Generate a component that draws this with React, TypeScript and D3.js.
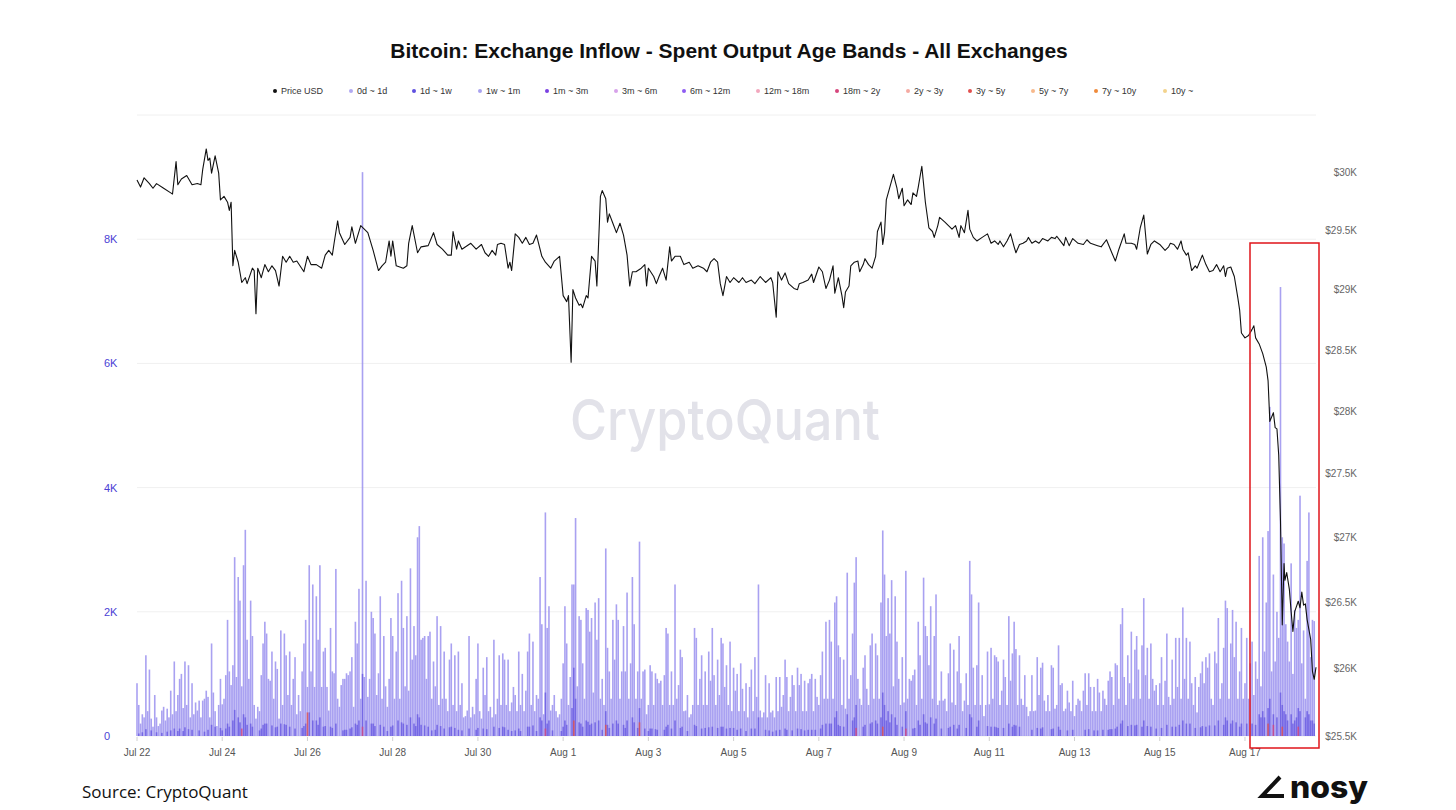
import React, { useEffect } from "react";
import * as d3 from "d3";

// ---------------- DATA ----------------
const HOURS = 664;

const xTickLabels = ["Jul 22", "Jul 24", "Jul 26", "Jul 28", "Jul 30", "Aug 1", "Aug 3", "Aug 5", "Aug 7", "Aug 9", "Aug 11", "Aug 13", "Aug 15", "Aug 17"];
const leftTicks = [0, 2000, 4000, 6000, 8000, 10000];
const leftTickLabels = ["0", "2K", "4K", "6K", "8K", ""];
const rightTicks = [25500, 26000, 26500, 27000, 27500, 28000, 28500, 29000, 29500, 30000];
const rightTickLabels = ["$25.5K", "$26K", "$26.5K", "$27K", "$27.5K", "$28K", "$28.5K", "$29K", "$29.5K", "$30K"];

const legendNames = ["Price USD", "0d ~ 1d", "1d ~ 1w", "1w ~ 1m", "1m ~ 3m", "3m ~ 6m", "6m ~ 12m", "12m ~ 18m", "18m ~ 2y", "2y ~ 3y", "3y ~ 5y", "5y ~ 7y", "7y ~ 10y", "10y ~"];
const legendColors = ["#111111", "#b1a9f2", "#5f50e0", "#a9a2f0", "#7a40e2", "#d7a2ea", "#8e5cf2", "#f2a7bd", "#d6467c", "#f5aaa2", "#e2504e", "#f7b98c", "#ef8a3a", "#f3d38c"];

// 0d ~ 1d hourly inflow, in hundreds of BTC (one value per hour from Jul 22 00:00)
const inflow0d1d = [
  // Jul 22
  8.5, 5, 2, 3.5, 3, 13, 4, 10.7, 2.8, 1.5, 6.6, 3, 1.6, 2, 4.1, 4.7, 2.5, 4.4, 3, 7.3, 3.5, 12, 4, 6.6,
  // Jul 23
  9.2, 10, 4.5, 12, 5, 11.4, 3, 8.5, 3.5, 5.4, 4.1, 5.7, 3, 5.7, 6, 7.3, 6.3, 3, 14.9, 7, 4, 1.6, 5, 9.2,
  // Jul 24
  5.1, 6, 9.8, 18.7, 10.4, 8.2, 11.4, 28.8, 9.5, 25.6, 21.8, 8, 27.5, 33.2, 15.5, 9.2, 21.8, 16.1, 5, 2.8, 4.7, 4, 9.8, 14.9,
  // Jul 25
  18.4, 16.5, 9.2, 8.9, 13.6, 6, 12, 10.8, 2.8, 17, 5, 16.5, 13, 6.6, 13.6, 5, 9.2, 12.7, 3.5, 6.6, 4, 10.4, 14.9, 18.7,
  // Jul 26
  7.9, 27.5, 10.4, 24.4, 7.9, 22.5, 15.5, 27.5, 7.9, 13.6, 14.2, 7.9, 4.1, 17.4, 10.4, 10.1, 26.9, 6, 4.7, 8.2, 9.2, 9.2, 10.1, 9.8,
  // Jul 27
  10.4, 12.7, 4.7, 18.4, 14.9, 23.7, 6, 90.8, 9.5, 25, 6.3, 9.2, 20, 19, 16.5, 6.6, 10.1, 22.5, 6, 16.1, 8, 4.7, 9.2, 19,
  // Jul 28
  16.1, 6, 13.6, 23, 6, 25, 17.4, 8, 19.3, 7.3, 27, 12.3, 17.7, 13, 32, 33.8, 15.5, 15.8, 16.1, 9.2, 16.1, 16.8, 6, 12,
  // Jul 29
  8, 19.3, 5, 17.7, 6, 13.6, 6, 4, 12.3, 14.9, 5, 13, 4, 13.6, 5, 8.5, 3, 3.2, 4.1, 16.1, 3, 4.7, 3.5, 9.2,
  // Jul 30
  14.9, 4, 2.8, 11, 6.6, 12.7, 4, 4.7, 3, 15.5, 3.5, 6, 13, 5, 13.3, 12.3, 5, 12.3, 4, 5.4, 7.9, 6.6, 4, 13.6,
  // Jul 31
  5, 10, 4, 7.3, 13.6, 16.5, 5, 15.2, 4, 6.6, 6, 25.6, 18, 3.5, 36, 17.4, 20.9, 4.1, 5, 6.6, 4, 3, 3.5, 6,
  // Aug 1
  11.7, 20.9, 14.9, 5, 9.5, 24.4, 24.4, 35.1, 8, 19.3, 18.7, 11.7, 6, 20.6, 20.3, 16.8, 19, 7, 21.5, 15.5, 22.2, 6, 9.2, 5,
  // Aug 2
  30.2, 14.2, 10.4, 6, 18.7, 12.3, 21.2, 18.7, 6, 10.4, 17.7, 10.4, 23.1, 6, 11.7, 25.6, 18, 6, 10.4, 31.3, 6, 10.4, 10.7, 3.5,
  // Aug 3
  5, 11.4, 10.4, 5, 10.1, 9.2, 8.5, 8.9, 5, 9.8, 17.4, 16.5, 5, 10.4, 5, 24.4, 6, 8.2, 13.9, 12.7, 4, 4.1, 6.6, 3,
  // Aug 4
  3.5, 5, 17.4, 15.8, 5, 9.2, 13, 5, 10.4, 5, 13.6, 8.9, 17.4, 9.8, 5, 12.3, 6.6, 15.8, 14.9, 7.9, 11.4, 5, 15.2, 4,
  // Aug 5
  11, 7.3, 10, 4, 11.7, 7.6, 4, 8.5, 3, 7.9, 10.7, 4, 12.7, 6.3, 24.4, 4.1, 3, 3.8, 9.8, 3, 8.5, 3.8, 4.1, 3,
  // Aug 6
  9.5, 4, 9.5, 4.7, 6.6, 12.3, 9.5, 4, 6.3, 9.8, 8.2, 4, 11, 8.2, 10, 4, 8.9, 4, 8.5, 9.2, 10, 4, 9.2, 6.3,
  // Aug 7
  5, 9.8, 13.6, 6, 18.4, 6, 18.7, 15.2, 6, 21.5, 22.5, 14.6, 12.7, 5, 12.3, 4.4, 26.3, 6, 9.8, 16.5, 24.7, 28.8, 9.2, 6,
  // Aug 8
  5, 11, 13, 7.6, 5, 14.6, 16.5, 6, 14.9, 13, 6, 21.5, 33.1, 26, 16.1, 22.2, 16.5, 25.1, 8, 22.5, 15.2, 9.2, 5, 12.7,
  // Aug 9
  5.4, 26.6, 6, 9.2, 8.9, 9.8, 10.7, 5, 18.4, 13, 6, 25.5, 17.7, 16.1, 11.4, 20.9, 6, 16.1, 22.8, 5, 5.7, 10.4, 5.7, 6,
  // Aug 10
  4, 10.1, 14.9, 5.4, 13.9, 5, 10.4, 16.1, 8.5, 4, 5.7, 10.1, 5, 28.2, 22.8, 11, 5, 11.4, 21.5, 5, 9.8, 3.2, 5, 13.6,
  // Aug 11
  5.1, 14.2, 6, 13, 12.7, 12, 5, 7.3, 12.3, 9.5, 5, 19.3, 8.9, 13.3, 18.4, 14, 5, 13, 6, 5, 9.8, 4.7, 3.2, 4,
  // Aug 12
  9.8, 4, 4.1, 12.7, 6.6, 11, 11.8, 5.7, 4, 6.6, 4, 11.4, 11, 4.4, 5, 14.6, 8.2, 8.5, 4, 4.4, 7.3, 5.4, 4, 8.9,
  // Aug 13
  3.2, 5, 6, 5.7, 4, 7.3, 10.1, 5, 10.1, 7.9, 4, 7.9, 4, 9.2, 7, 4, 7.3, 6, 5, 8.9, 10.4, 9.5, 5, 11.7,
  // Aug 14
  11.4, 6, 18, 20.6, 9.5, 5, 13, 8.5, 16.8, 6, 13.9, 16.1, 10.7, 6, 14.6, 22.2, 9.8, 14.2, 6, 14.9, 9.2, 7.3, 8.2, 5,
  // Aug 15
  8.5, 12.7, 5, 8.9, 16.5, 6.3, 5, 12.3, 6, 15.8, 7.9, 15.8, 6, 20.7, 9.2, 15.8, 6, 15.2, 8.5, 5, 9.5, 3.8, 7.9, 10.1,
  // Aug 16
  12, 8.5, 12.7, 11, 13.3, 6, 5, 13.6, 11.7, 19, 6, 8.5, 14.2, 21.8, 20.6, 6, 14.9, 20.3, 12.7, 18.4, 6, 10.4, 17.4, 6,
  // Aug 17
  8.5, 15.8, 6, 11.7, 15.2, 6.6, 12, 9.2, 29, 8, 32, 13.6, 21.5, 33, 53, 10.4, 26, 12, 20, 15.8, 72.3, 32, 31, 18,
  // Aug 18
  15.2, 12, 27.8, 10, 20.3, 17.4, 18.7, 38.7, 11.7, 17, 6, 28.2, 36, 12.7, 18.7, 18.5,
];

// 1d ~ 1w inflow, [hour, BTC]
const inflow1d1w: [number, number][] = [
  [1, 40], [3, 60], [5, 110], [8, 90], [11, 60], [14, 50], [17, 70], [19, 90], [21, 120], [23, 80],
  [24, 120], [26, 80], [27, 140], [29, 110], [31, 100], [35, 90], [38, 70], [40, 100], [42, 180], [44, 150], [47, 130],
  [48, 90], [50, 120], [51, 200], [52, 150], [54, 250], [55, 420], [57, 300], [58, 220], [60, 350], [61, 300], [62, 180], [64, 200], [65, 150], [69, 90], [70, 120], [71, 180],
  [72, 200], [73, 200], [76, 170], [78, 140], [79, 150], [81, 200], [83, 190], [84, 180], [86, 150], [89, 120], [93, 130], [94, 160], [95, 200],
  [97, 380], [99, 250], [101, 250], [102, 180], [103, 300], [105, 150], [106, 160], [109, 150], [110, 130], [112, 200], [116, 90], [117, 100], [118, 100],
  [120, 120], [121, 140], [123, 200], [124, 180], [125, 250], [127, 1000], [129, 250], [132, 200], [133, 200], [134, 160], [137, 180], [139, 150], [141, 80], [143, 150],
  [144, 170], [147, 250], [149, 220], [150, 200], [152, 180], [154, 300], [156, 200], [157, 160], [158, 350], [159, 300], [160, 180], [162, 170], [164, 150], [166, 90],
  [168, 100], [169, 180], [171, 160], [173, 120], [176, 140], [177, 150], [179, 130], [181, 100], [183, 90], [187, 120], [191, 100],
  [192, 130], [195, 120], [197, 110], [201, 150], [204, 130], [206, 150], [207, 140], [209, 100], [211, 80], [213, 90], [215, 120],
  [216, 80], [220, 150], [221, 150], [223, 170], [225, 80], [227, 300], [228, 250], [230, 700], [231, 200], [232, 250], [234, 90], [239, 80],
  [240, 150], [241, 250], [242, 180], [245, 450], [246, 1100], [247, 600], [249, 220], [250, 200], [251, 150], [253, 250], [254, 230], [255, 180], [256, 200], [258, 220], [260, 250], [262, 100],
  [264, 400], [265, 180], [266, 130], [268, 200], [270, 250], [271, 200], [274, 180], [275, 130], [276, 250], [279, 300], [280, 220], [282, 130], [283, 450], [286, 120],
  [288, 80], [289, 120], [290, 120], [292, 110], [293, 100], [297, 100], [298, 150], [299, 180], [301, 120], [303, 250], [306, 130], [307, 150], [310, 80],
  [314, 180], [315, 160], [318, 120], [320, 130], [322, 140], [324, 150], [327, 130], [329, 150], [330, 150], [332, 120], [334, 130],
  [336, 130], [338, 100], [340, 120], [343, 80], [346, 120], [348, 120], [350, 300], [354, 100], [356, 90], [358, 70],
  [360, 90], [362, 100], [365, 120], [366, 100], [369, 90], [372, 120], [374, 110], [376, 90], [378, 100], [380, 100], [382, 100],
  [385, 120], [386, 180], [388, 200], [390, 200], [391, 200], [393, 300], [394, 400], [395, 180], [396, 160], [398, 150], [400, 350], [403, 250], [404, 300], [405, 500],
  [409, 150], [410, 180], [413, 200], [414, 220], [416, 250], [417, 200], [419, 300], [420, 700], [421, 500], [422, 250], [423, 400], [424, 220], [425, 350], [427, 300], [428, 180], [431, 150],
  [433, 400], [437, 120], [438, 130], [440, 250], [441, 180], [443, 350], [444, 220], [445, 200], [447, 300], [449, 200], [450, 280], [453, 120],
  [457, 130], [458, 150], [460, 180], [462, 120], [463, 180], [467, 130], [469, 350], [470, 300], [473, 150], [474, 250], [479, 160],
  [481, 150], [483, 150], [484, 140], [485, 130], [488, 130], [491, 200], [493, 150], [494, 180], [495, 170], [497, 150],
  [504, 100], [507, 130], [509, 120], [510, 140], [515, 110], [516, 120], [519, 150], [520, 100], [524, 90], [527, 100],
  [534, 100], [536, 110], [539, 90], [541, 90], [544, 100], [547, 100], [548, 110], [549, 110], [551, 120],
  [552, 150], [554, 200], [555, 250], [558, 160], [560, 180], [562, 170], [563, 180], [566, 150], [567, 250], [569, 160], [571, 150], [574, 120],
  [577, 130], [580, 180], [583, 150], [585, 150], [587, 180], [589, 250], [591, 200], [593, 200], [596, 130], [599, 140],
  [600, 160], [602, 150], [604, 170], [607, 170], [609, 250], [612, 180], [613, 300], [614, 250], [616, 200], [617, 250], [619, 220], [621, 150], [622, 200],
  [625, 200], [628, 200], [630, 180], [632, 350], [633, 300], [634, 400], [635, 300], [637, 450], [638, 600], [640, 350], [642, 300], [644, 700], [645, 500], [646, 400], [647, 350],
  [648, 250], [650, 350], [651, 200], [652, 250], [653, 300], [654, 450], [655, 400], [658, 300], [659, 400], [660, 350], [661, 250], [662, 250], [663, 200],
];

// 18m ~ 2y inflow, [hour, BTC]
const inflow18m2y: [number, number][] = [
  [59, 120], [127, 150], [230, 120], [405, 130], [433, 120], [640, 180], [654, 150],
];

// 3y ~ 5y inflow, [hour, BTC]
const inflow3y5y: [number, number][] = [
  [96, 380], [246, 250], [264, 180], [283, 220], [420, 150], [637, 200], [645, 150],
];

// Price USD, [hour, price]
const priceUSD: [number, number][] = [
  [0, 29930], [2, 29870], [4, 29950], [7, 29900], [9, 29860], [11, 29900], [15, 29860], [19, 29820], [20, 29810], [22, 30090], [23, 29890],
  [25, 29940], [28, 29970], [31, 29890], [34, 29900], [36, 29890], [37, 30020], [39, 30200], [40, 30100], [41, 30120], [42, 29990], [44, 30140],
  [46, 29990], [47, 29760], [49, 29790], [51, 29740], [52, 29670], [53, 29740], [54, 29200], [55, 29330], [57, 29230], [59, 29060], [61, 29100],
  [62, 29050], [65, 29180], [66, 29160], [67, 28800], [68, 29180], [70, 29100], [72, 29210], [74, 29150], [76, 29200], [78, 29160], [80, 29030],
  [82, 29280], [84, 29230], [86, 29280], [88, 29230], [90, 29240], [94, 29150], [96, 29280], [98, 29210], [101, 29210], [104, 29180], [106, 29290],
  [108, 29330], [110, 29290], [111, 29390], [113, 29580], [114, 29480], [117, 29380], [120, 29440], [121, 29530], [123, 29390], [126, 29540],
  [128, 29510], [130, 29480], [133, 29330], [136, 29160], [138, 29200], [140, 29230], [142, 29410], [143, 29280], [144, 29410], [146, 29200],
  [150, 29180], [152, 29200], [153, 29390], [155, 29540], [158, 29310], [160, 29360], [164, 29370], [167, 29480], [169, 29380], [172, 29340],
  [175, 29290], [177, 29290], [178, 29490], [180, 29340], [181, 29410], [183, 29340], [188, 29390], [191, 29340], [194, 29380], [196, 29310],
  [198, 29280], [200, 29330], [202, 29290], [203, 29380], [205, 29390], [207, 29380], [209, 29180], [210, 29230], [211, 29160], [213, 29470],
  [215, 29440], [217, 29390], [219, 29440], [221, 29380], [223, 29390], [225, 29460], [228, 29280], [230, 29230], [233, 29180], [235, 29240],
  [238, 29280], [240, 28950], [242, 28900], [243, 28950], [244.5, 28400], [245.5, 29000], [247, 28930], [249, 28870], [250, 28880], [251, 28850],
  [253, 28950], [254, 28930], [256, 29280], [258, 29240], [259, 29030], [261, 29790], [262, 29840], [264, 29770], [265, 29570], [266, 29640],
  [268, 29560], [270, 29480], [272, 29560], [274, 29460], [276, 29290], [277.5, 29030], [279, 29150], [281, 29150], [284, 29180], [286, 29210],
  [287, 29030], [288, 29180], [291, 29110], [292.5, 29050], [294, 29110], [296, 29180], [298, 29080], [300, 29360], [301, 29240], [303, 29280],
  [306, 29280], [308, 29210], [311, 29230], [313, 29180], [316, 29200], [319, 29180], [321, 29150], [323, 29230], [325, 29260], [327, 29230],
  [328.5, 29050], [330, 28950], [331, 29030], [332, 29110], [334, 29060], [336, 29100], [339, 29060], [341, 29100], [343, 29060], [346, 29080],
  [348, 29050], [351, 29110], [354, 29060], [357, 29100], [358, 29060], [360, 28770], [361, 29150], [363, 29080], [365, 29140], [367, 29050],
  [370, 29010], [372, 29000], [373, 29050], [375, 29060], [378, 29080], [380, 29130], [381, 29060], [384, 29190], [386, 29150], [388, 29010],
  [390, 29080], [392, 29200], [393, 28970], [395, 29100], [397, 28950], [398, 28850], [399, 28980], [401, 29030], [402, 29200], [404, 29230],
  [406, 29240], [407, 29150], [409, 29210], [410, 29260], [412, 29210], [414, 29180], [416, 29280], [417, 29490], [419, 29570], [420, 29380],
  [421, 29480], [422, 29760], [424, 29870], [426, 29980], [428, 29860], [429, 29770], [431, 29860], [432, 29710], [434, 29760], [436, 29720],
  [437, 29820], [439, 29790], [440, 29870], [442, 30050], [444, 29740], [446, 29520], [448, 29490], [449, 29440], [451, 29540], [452, 29610],
  [455, 29570], [457, 29540], [459, 29510], [461, 29540], [463, 29440], [464, 29540], [466, 29480], [468, 29670], [469, 29510], [471, 29440],
  [473, 29410], [476, 29440], [479, 29470], [481, 29390], [483, 29410], [485, 29380], [486, 29410], [488, 29360], [490, 29410], [492, 29470],
  [494, 29360], [495, 29310], [497, 29380], [499, 29390], [501, 29410], [502, 29440], [504, 29390], [506, 29410], [508, 29390], [510, 29430],
  [513, 29410], [515, 29440], [517, 29430], [518, 29450], [520, 29410], [522, 29370], [523, 29440], [525, 29370], [527, 29430], [530, 29390],
  [533, 29380], [535, 29420], [537, 29390], [541, 29370], [543, 29360], [546, 29420], [549, 29310], [551, 29240], [553, 29340], [556, 29470],
  [557, 29390], [560, 29390], [562, 29380], [563, 29340], [565, 29520], [567, 29630], [569, 29300], [571, 29380], [573, 29410], [576, 29380],
  [579, 29330], [581, 29360], [582, 29390], [584, 29380], [586, 29340], [588, 29410], [589, 29340], [591, 29290], [592, 29310], [594, 29160],
  [596, 29200], [597, 29180], [600, 29290], [602, 29210], [604, 29150], [606, 29160], [608, 29210], [610, 29150], [612, 29200], [613, 29110],
  [614, 29180], [616, 29190], [618, 29110], [620, 28930], [621, 28830], [622, 28640], [624, 28600], [626, 28620], [628, 28670], [629, 28700],
  [630, 28600], [632, 28550], [634, 28470], [636, 28360], [637, 28250], [638, 27920], [640, 27990], [641, 27870], [642, 27860], [643, 27650],
  [644, 27130], [645, 26330], [646, 26800], [646.5, 26670], [647.5, 26730], [649, 26600], [650, 26430], [651, 26280], [652, 26430], [654, 26510],
  [655, 26460], [656, 26580], [657, 26480], [658, 26490], [659, 26370], [661, 26220], [662, 25980], [663, 25920], [664, 26010],
];

// ---------------- CHART ----------------
const W = 1456;
const H = 810;
const FONT = "'Liberation Sans', Arial, Helvetica, sans-serif";

export default function App() {
  useEffect(() => {
    document.body.style.margin = "0";
  }, []);

  const x = d3.scaleLinear().domain([0, HOURS]).range([137, 1316]);
  const yL = d3.scaleLinear().domain([0, 10000]).range([736, 115]);
  const yR = d3.scaleLog().domain([25500, 30000]).range([736, 172]);
  const bw = 1.6;

  const line = d3
    .line<[number, number]>()
    .x((d) => x(d[0]))
    .y((d) => yR(d[1]));

  const legendX = [275, 351, 414, 480, 547, 616, 684, 758, 837, 908, 970, 1033, 1096, 1165];

  const sparseBars = (data: [number, number][], color: string, op: number) => (
    <g fill={color} fillOpacity={op}>
      {data.map(([h, v], i) => (
        <rect key={i} x={x(h) - bw / 2} y={yL(v)} width={bw} height={yL(0) - yL(v)} />
      ))}
    </g>
  );

  return (
    <svg width={W} height={H} style={{ position: "absolute", left: 0, top: 0, background: "#fff" }} xmlns="http://www.w3.org/2000/svg">
      <rect x={0} y={0} width={W} height={H} fill="#ffffff" />
      <text x={729} y={58} textAnchor="middle" fontFamily={FONT} fontWeight="bold" fontSize={21} fill="#111">
        Bitcoin: Exchange Inflow - Spent Output Age Bands - All Exchanges
      </text>

      {/* legend */}
      {legendNames.map((n, i) => (
        <g key={n}>
          <circle cx={legendX[i]} cy={91} r={2} fill={legendColors[i]} />
          <text x={legendX[i] + 6} y={94.3} fontFamily={FONT} fontSize={9} fill="#333">
            {n}
          </text>
        </g>
      ))}

      {/* grid */}
      {leftTicks.map((t) => (
        <line key={t} x1={137} x2={1316} y1={yL(t)} y2={yL(t)} stroke="#f0f0f0" strokeWidth={1} />
      ))}

      {/* watermark */}
      <text x={725} y={440} textAnchor="middle" fontFamily="Inter, 'Noto Sans', sans-serif" fontWeight={500} fontSize={56} fill="#e2e2e9" textLength={310} lengthAdjust="spacingAndGlyphs">
        CryptoQuant
      </text>

      {/* bars: 0d ~ 1d */}
      <g fill="#9a90ef" fillOpacity={0.85}>
        {inflow0d1d.map((v, i) => (
          <rect key={i} x={x(i) - bw / 2} y={yL(v * 100)} width={bw} height={yL(0) - yL(v * 100)} />
        ))}
      </g>
      {sparseBars(inflow1d1w, legendColors[2], 0.7)}
      {sparseBars(inflow18m2y, legendColors[8], 0.8)}
      {sparseBars(inflow3y5y, legendColors[10], 0.8)}

      {/* price line */}
      <path d={line(priceUSD) || ""} fill="none" stroke="#111" strokeWidth={1.1} strokeLinejoin="round" />

      {/* left axis */}
      {leftTicks.map((t, i) => (
        <text key={t} x={104} y={yL(t) + 4} fontFamily={FONT} fontSize={11} fill="#4b3fd5">
          {leftTickLabels[i]}
        </text>
      ))}

      {/* right axis */}
      {rightTicks.map((t, i) => (
        <text key={t} x={1357} y={yR(t) + 3.5} textAnchor="end" fontFamily={FONT} fontSize={10} fill="#666">
          {rightTickLabels[i]}
        </text>
      ))}

      {/* x axis */}
      {xTickLabels.map((lab, i) => {
        const h = i * 48;
        return (
          <g key={lab}>
            <line x1={x(h)} x2={x(h)} y1={737} y2={741} stroke="#d0d0d0" />
            <text x={x(h)} y={756} textAnchor="middle" fontFamily={FONT} fontSize={10} fill="#555">
              {lab}
            </text>
          </g>
        );
      })}

      {/* highlight box */}
      <rect x={1250} y={243} width={69} height={505} fill="none" stroke="#e0141a" strokeWidth={1.5} />

      {/* footer */}
      <text x={82} y={798} fontFamily="'Open Sans', 'Noto Sans', sans-serif" fontSize={17} fill="#111">
        Source: CryptoQuant
      </text>
      <path d="M1280,777 L1262,796 L1284,796" fill="none" stroke="#111" strokeWidth={4} strokeLinejoin="miter" />
      <text x={1290} y={798} fontFamily="Inter, 'Liberation Sans', sans-serif" fontWeight={800} fontSize={30} fill="#111" textLength={78} lengthAdjust="spacingAndGlyphs">
        nosy
      </text>
    </svg>
  );
}
